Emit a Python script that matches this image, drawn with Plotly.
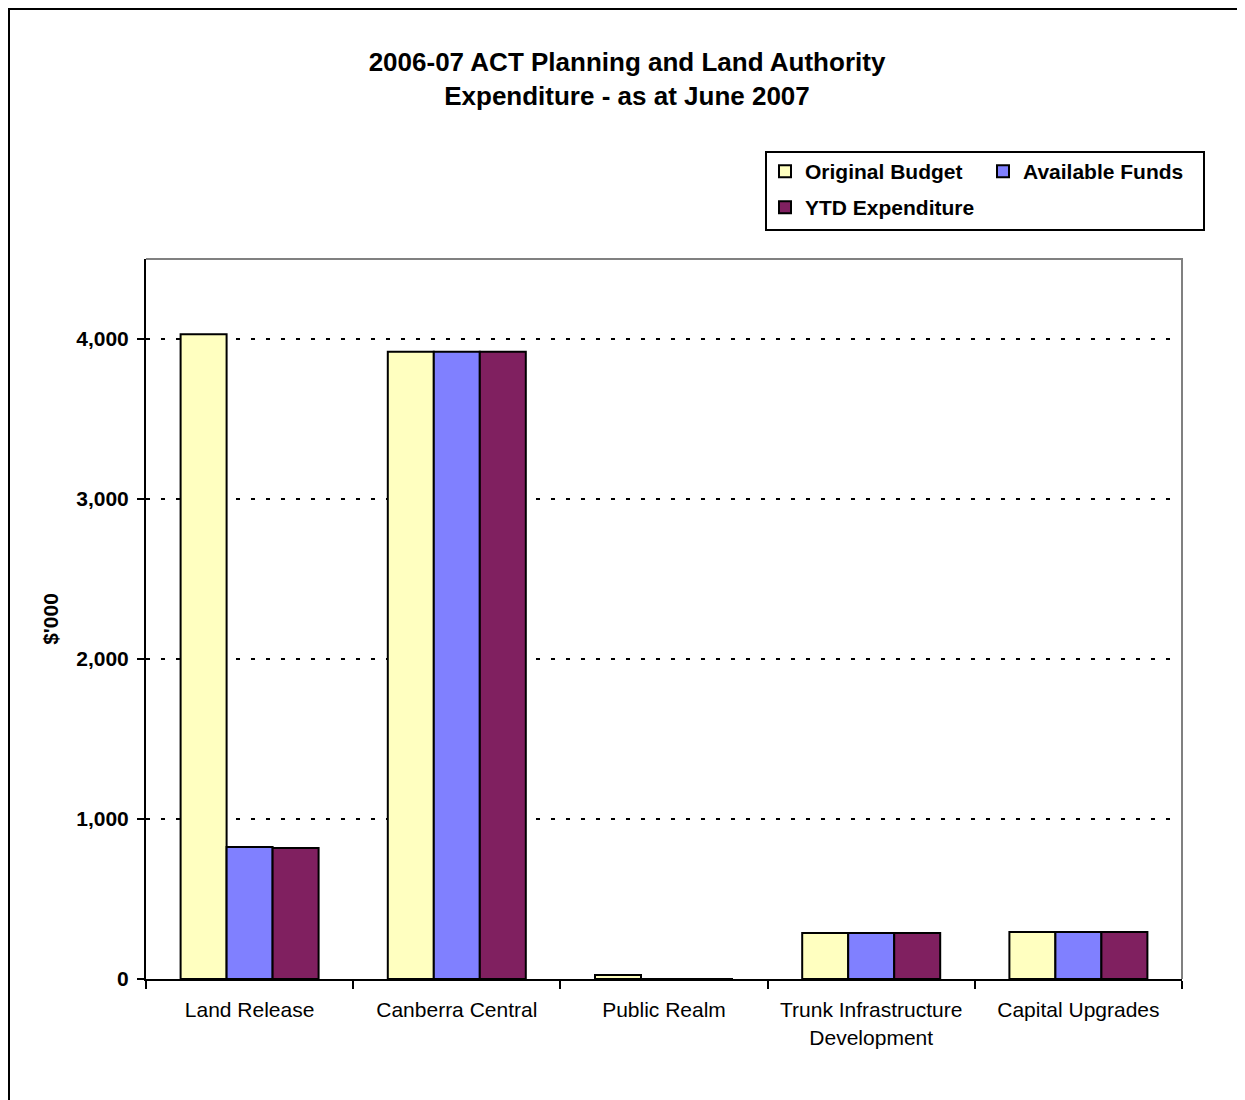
import plotly.graph_objects as go
import numpy as np

categories = ["Land Release", "Canberra Central", "Public Realm",
              "Trunk Infrastructure<br>Development", "Capital Upgrades"]
original_budget = [4030, 3920, 25, 288, 294]
available_funds = [825, 3920, 0, 288, 294]
ytd_expenditure = [819, 3920, 0, 288, 294]
y_ticks = [0, 1000, 2000, 3000, 4000]
y_tick_labels = ["0", "1,000", "2,000", "3,000", "4,000"]

# page is 1245x1100; the html body has an 8px margin
OFF = 8
FW, FH = 1245 - OFF, 1100 - OFF
FONT = "Liberation Sans, Arial, sans-serif"

def fx(p):
    return (p - OFF) / FW

def fy(p):
    return 1 - (p - OFF) / FH

series = [
    ("Original Budget", original_budget, "#FFFFC0", "legend"),
    ("Available Funds", available_funds, "#8080FF", "legend"),
    ("YTD Expenditure", ytd_expenditure, "#802060", "legend2"),
]

fig = go.Figure()
for name, vals, col, lg in series:
    fig.add_trace(go.Bar(
        name=name, x=categories, y=vals, legend=lg,
        marker=dict(color=col, line=dict(color="black", width=2)),
    ))

xdom = [fx(146), fx(1182)]
ydom = [fy(979), fy(259)]
boundaries = list(np.arange(len(categories) + 1) - 0.5)

legend_font = dict(family=FONT, size=21, weight="bold", color="black")

fig.update_layout(
    width=FW, height=FH,
    margin=dict(l=0, r=0, t=0, b=0, autoexpand=False),
    paper_bgcolor="white", plot_bgcolor="white",
    font=dict(family=FONT, color="black", size=21),
    barmode="group", bargap=0.334, bargroupgap=0,
    title=dict(
        text="2006-07 ACT Planning and Land Authority<br>Expenditure - as at June 2007",
        font=dict(family=FONT, size=26, weight="bold", color="black"),
        x=fx(627), xanchor="center", xref="paper",
        y=fy(71), yanchor="middle", yref="container",
    ),
    legend=dict(
        orientation="h", x=fx(765), y=fy(151), xanchor="left", yanchor="top",
        xref="paper", yref="paper", borderwidth=0, bgcolor="rgba(0,0,0,0)",
        font=legend_font, entrywidth=173, entrywidthmode="pixels",
    ),
    legend2=dict(
        orientation="h", x=fx(765), y=fy(187), xanchor="left", yanchor="top",
        xref="paper", yref="paper", borderwidth=0, bgcolor="rgba(0,0,0,0)",
        font=legend_font, entrywidth=173, entrywidthmode="pixels",
    ),
    xaxis=dict(
        domain=xdom, anchor="y",
        type="category", range=[-0.5, len(categories) - 0.5],
        showline=True, linecolor="black", linewidth=2,
        ticks="outside", tickson="boundaries", ticklen=8, tickwidth=2, tickcolor="black",
        showgrid=False, zeroline=False, tickangle=0, automargin=False,
        tickfont=dict(family=FONT, size=21, color="black"),
        ticklabelstandoff=11,
    ),
    xaxis2=dict(
        domain=xdom, anchor="y", overlaying="x", side="bottom",
        range=[-0.5, len(categories) - 0.5],
        tickmode="array", tickvals=boundaries,
        ticks="inside", ticklen=7, tickwidth=2, tickcolor="black",
        showticklabels=False, showgrid=False, zeroline=False, showline=False,
    ),
    yaxis=dict(
        domain=ydom, anchor="x",
        range=[0, 4500],
        tickmode="array", tickvals=y_ticks, ticktext=y_tick_labels,
        showline=True, linecolor="black", linewidth=2,
        ticks="outside", ticklen=7, tickwidth=2, tickcolor="black",
        showgrid=True, gridcolor="black", gridwidth=2, griddash="4px,11px",
        zeroline=False, automargin=False,
        tickfont=dict(family=FONT, size=21, weight="bold", color="black"),
        ticklabelstandoff=4,
        title=dict(text="$'000", standoff=12,
                   font=dict(family=FONT, size=21, weight="bold", color="black")),
    ),
    yaxis2=dict(
        domain=ydom, anchor="x", overlaying="y", side="left",
        range=[0, 4500],
        tickmode="array", tickvals=y_ticks,
        ticks="inside", ticklen=7, tickwidth=2, tickcolor="black",
        showticklabels=False, showgrid=False, zeroline=False, showline=False,
    ),
    shapes=[
        # outer frame
        dict(type="rect", xref="paper", yref="paper",
             x0=fx(9), x1=fx(1260), y0=fy(1110), y1=fy(9),
             line=dict(color="black", width=2), fillcolor="rgba(0,0,0,0)", layer="above"),
        # grey top/right plot border
        dict(type="path", xref="paper", yref="paper",
             path=f"M {xdom[0]},{ydom[1]} L {xdom[1]},{ydom[1]} L {xdom[1]},{ydom[0]}",
             line=dict(color="#808080", width=2), layer="above"),
        # legend box
        dict(type="rect", xref="paper", yref="paper",
             x0=fx(766), x1=fx(1204), y0=fy(230), y1=fy(152),
             line=dict(color="black", width=2), fillcolor="rgba(0,0,0,0)", layer="below"),
    ],
)

fig.write_html("out.html")
